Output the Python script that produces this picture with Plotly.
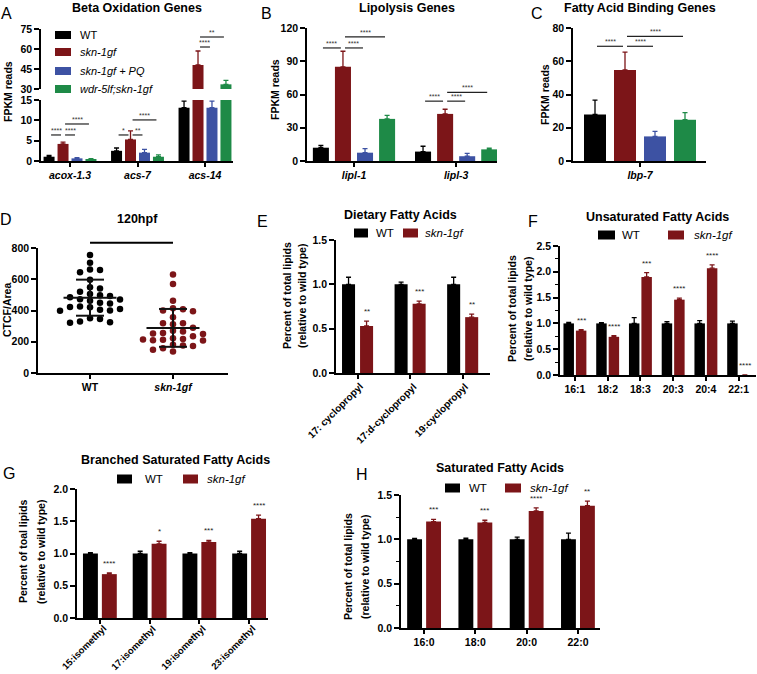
import numpy as np
import plotly.graph_objects as go

W, H = 757, 674
FONT = "Liberation Sans, Arial, Helvetica, sans-serif"
BLACK, RED, BLUE, GREEN = "#000000", "#7c1518", "#3d52a3", "#1e8a47"

# ---------------- data ----------------
strains = ["WT", "skn-1gf", "skn-1gf + PQ", "wdr-5lf;skn-1gf"]

genes_A = ["acox-1.3", "acs-7", "acs-14"]
A_wt = [1.05, 2.5, 13.1]
A_wt_err = [0.3, 0.7, 1.6]
A_skn = [4.2, 5.3, 48.0]
A_skn_err = [0.45, 2.1, 10.5]
A_pq = [0.65, 2.05, 13.1]
A_pq_err = [0.2, 0.8, 1.6]
A_wdr = [0.4, 1.05, 33.5]
A_wdr_err = [0.2, 0.45, 3.0]
sig_A = [("acox-1.3", "WT", "skn-1gf", 6.4, "****"),
         ("acox-1.3", "skn-1gf", "skn-1gf + PQ", 6.4, "****"),
         ("acox-1.3", "skn-1gf", "wdr-5lf;skn-1gf", 9.1, "****"),
         ("acs-7", "WT", "skn-1gf", 6.4, "*"),
         ("acs-7", "skn-1gf", "skn-1gf + PQ", 6.4, "**"),
         ("acs-7", "skn-1gf", "wdr-5lf;skn-1gf", 10.1, "****"),
         ("acs-14", "skn-1gf", "skn-1gf + PQ", 61.5, "****"),
         ("acs-14", "skn-1gf", "wdr-5lf;skn-1gf", 69.0, "**")]

genes_B = ["lipl-1", "lipl-3"]
B_wt = [12.0, 8.5]
B_wt_err = [2.0, 4.8]
B_skn = [85.0, 42.5]
B_skn_err = [14.0, 4.2]
B_pq = [7.5, 4.3]
B_pq_err = [3.6, 2.5]
B_wdr = [38.0, 10.5]
B_wdr_err = [3.2, 1.0]
sig_B = [("lipl-1", "WT", "skn-1gf", 102, "****"),
         ("lipl-1", "skn-1gf", "skn-1gf + PQ", 102, "****"),
         ("lipl-1", "skn-1gf", "wdr-5lf;skn-1gf", 112, "****"),
         ("lipl-3", "WT", "skn-1gf", 54, "****"),
         ("lipl-3", "skn-1gf", "skn-1gf + PQ", 54, "****"),
         ("lipl-3", "skn-1gf", "wdr-5lf;skn-1gf", 62, "****")]

genes_C = ["lbp-7"]
C_wt = [28.0]
C_wt_err = [8.6]
C_skn = [54.8]
C_skn_err = [10.7]
C_pq = [14.8]
C_pq_err = [3.0]
C_wdr = [24.8]
C_wdr_err = [4.3]
sig_C = [("lbp-7", "WT", "skn-1gf", 69, "****"),
         ("lbp-7", "skn-1gf", "skn-1gf + PQ", 69, "****"),
         ("lbp-7", "skn-1gf", "wdr-5lf;skn-1gf", 75, "****")]

groups_D = ["WT", "skn-1gf"]
D_wt = [755, 706, 663, 659, 644, 597, 548, 540, 520, 505, 497, 492, 484, 472,
        470, 462, 450, 445, 425, 422, 420, 410, 405, 400, 398, 350, 346, 330,
        325, 322]
D_skn = [631, 570, 463, 414, 408, 400, 395, 356, 318, 318, 312, 290, 270, 266,
         256, 252, 250, 235, 222, 218, 215, 212, 210, 208, 180, 176, 172, 158,
         148, 138]
D_sig = "****"
D_sig_y = 834

pair = ["WT", "skn-1gf"]

lipids_E = ["17: cyclopropyl", "17:d-cyclopropyl", "19:cyclopropyl"]
E_wt = [1.0, 1.0, 1.0]
E_wt_err = [0.08, 0.025, 0.08]
E_skn = [0.53, 0.78, 0.63]
E_skn_err = [0.055, 0.03, 0.035]
E_sig = ["**", "***", "**"]

lipids_F = ["16:1", "18:2", "18:3", "20:3", "20:4", "22:1"]
F_wt = [1.0, 1.0, 1.0, 1.0, 1.0, 1.0]
F_wt_err = [0.02, 0.015, 0.11, 0.035, 0.055, 0.045]
F_skn = [0.86, 0.74, 1.90, 1.46, 2.07, 0.0]
F_skn_err = [0.02, 0.025, 0.085, 0.03, 0.065, 0.0]
F_sig = ["***", "****", "***", "****", "****", "****"]

lipids_G = ["15:isomethyl", "17:isomethyl", "19:isomethyl", "23:isomethyl"]
G_wt = [1.0, 1.0, 1.0, 1.0]
G_wt_err = [0.015, 0.035, 0.015, 0.035]
G_skn = [0.68, 1.15, 1.18, 1.54]
G_skn_err = [0.02, 0.04, 0.025, 0.055]
G_sig = ["****", "*", "***", "****"]

lipids_H = ["16:0", "18:0", "20:0", "22:0"]
H_wt = [1.0, 1.0, 1.0, 1.0]
H_wt_err = [0.01, 0.012, 0.025, 0.07]
H_skn = [1.20, 1.19, 1.32, 1.38]
H_skn_err = [0.025, 0.025, 0.035, 0.05]
H_sig = ["***", "***", "****", "**"]

# ---------------- helpers ----------------
fig = go.Figure()


def ref(i, k):
    return k if i == 1 else f"{k}{i}"


def axkey(i, k):
    return f"{k}axis" if i == 1 else f"{k}axis{i}"


TICKFONT = dict(family=FONT, size=10.5, color="black", weight=700)
axes = {}


def make_axes(i, box, xr, yr, ytick0, ydtick, xtickvals, xticktext,
              show_x=True, show_xlabels=True, yfmt=None, minor=False):
    x0, x1, yt, yb = box
    xa = dict(domain=[x0 / W, x1 / W], range=xr, anchor=ref(i, "y"),
              showline=show_x, linecolor="black", linewidth=1.6,
              ticks="outside" if show_x else "", ticklen=4, tickwidth=1.5,
              tickcolor="black", showgrid=False, zeroline=False,
              tickfont=TICKFONT, tickmode="array", tickvals=xtickvals,
              ticktext=xticktext, fixedrange=True,
              showticklabels=show_x and show_xlabels, automargin=False)
    ya = dict(domain=[1 - yb / H, 1 - yt / H], range=yr, anchor=ref(i, "x"),
              showline=True, linecolor="black", linewidth=1.6,
              ticks="outside", ticklen=5, tickwidth=1.5, tickcolor="black",
              showgrid=False, zeroline=False, tickfont=TICKFONT,
              tick0=ytick0, dtick=ydtick, fixedrange=True, automargin=False)
    if yfmt:
        ya["tickformat"] = yfmt
    if minor:
        ya["minor"] = dict(dtick=ydtick / 2, ticks="outside", ticklen=3,
                           tickwidth=1.3, tickcolor="black", showgrid=False)
    axes[axkey(i, "x")] = xa
    axes[axkey(i, "y")] = ya


def rot_labels(i, box, labels, size=10, gap=5):
    # slanted category labels whose end sits just under each tick
    yb = box[3]
    for g, lab in enumerate(labels):
        fig.add_annotation(x=g, y=1 - (yb + gap) / H, xref=ref(i, "x"),
                           yref="paper", text=f"<b>{lab}</b>", textangle=-45,
                           xanchor="right", yanchor="top", xshift=11,
                           showarrow=False,
                           font=dict(family=FONT, size=size, color="black"))


def offsets(nser, pitch):
    return [(k - (nser - 1) / 2) * pitch for k in range(nser)]


def add_bars(i, series, ngroups, pitch, width):
    offs = offsets(len(series), pitch)
    for k, (vals, errs, color) in enumerate(series):
        pos = np.arange(ngroups) + offs[k]
        fig.add_trace(go.Bar(
            x=pos, y=vals, width=width,
            marker=dict(color=color, line=dict(width=0)),
            error_y=dict(type="data", array=errs, arrayminus=[0] * ngroups,
                         symmetric=False, color=color, thickness=1.3, width=2.5),
            xaxis=ref(i, "x"), yaxis=ref(i, "y"), showlegend=False,
            hoverinfo="skip"))


def add_sig_lines(i_of_y, sigs, cats, names, pitch, inset):
    offs = offsets(len(names), pitch)
    for g, a, b, y, lab in sigs:
        i = i_of_y(y)
        gi = cats.index(g)
        xa_ = gi + offs[names.index(a)] + inset
        xb_ = gi + offs[names.index(b)] - inset
        fig.add_shape(type="line", x0=xa_, x1=xb_, y0=y, y1=y,
                      xref=ref(i, "x"), yref=ref(i, "y"),
                      line=dict(color="#222222", width=1.2))
        fig.add_annotation(x=(xa_ + xb_) / 2, y=y, xref=ref(i, "x"),
                           yref=ref(i, "y"), text=lab, showarrow=False,
                           yanchor="bottom", yshift=-1,
                           font=dict(family=FONT, size=7, color="#333333"))


def add_stars(i, vals, errs, sigs, pitch):
    off = offsets(2, pitch)[1]
    for g, (v, e, s) in enumerate(zip(vals, errs, sigs)):
        fig.add_annotation(x=g + off, y=v + e, xref=ref(i, "x"),
                           yref=ref(i, "y"), text=s, showarrow=False,
                           yanchor="bottom", yshift=3,
                           font=dict(family=FONT, size=8, color="#222222"))


def txt(x, y, s, size=12.5, bold=True, angle=0, anchor="center", italic=False,
        color="black"):
    t = s
    if italic:
        t = f"<i>{t}</i>"
    if bold:
        t = f"<b>{t}</b>"
    fig.add_annotation(x=x / W, y=1 - y / H, xref="paper", yref="paper",
                       text=t, showarrow=False, textangle=angle,
                       xanchor=anchor, yanchor="middle",
                       font=dict(family=FONT, size=size, color=color))


def swatch(x0, x1, yc, color, h=8):
    fig.add_shape(type="rect", xref="paper", yref="paper",
                  x0=x0 / W, x1=x1 / W, y0=1 - (yc + h / 2) / H,
                  y1=1 - (yc - h / 2) / H, fillcolor=color, line=dict(width=0))


def it(labels):
    return [f"<i>{s}</i>" for s in labels]


# ---------------- panel A (broken axis) ----------------
boxA = (41, 233, 100, 161)
boxAt = (41, 233, 29, 89)
xrA = [-0.43, 2.415]
make_axes(1, boxA, xrA, [0, 15], 0, 5, list(range(3)), it(genes_A))
make_axes(2, boxAt, xrA, [30, 75], 30, 15, [], [], show_x=False)
seriesA = [(A_wt, A_wt_err, BLACK), (A_skn, A_skn_err, RED),
           (A_pq, A_pq_err, BLUE), (A_wdr, A_wdr_err, GREEN)]
add_bars(1, seriesA, 3, 0.207, 0.163)
add_bars(2, seriesA, 3, 0.207, 0.163)
add_sig_lines(lambda y: 2 if y >= 30 else 1, sig_A, genes_A, strains, 0.207, 0.03)

# ---------------- panel B ----------------
boxB = (307, 497, 28, 161)
make_axes(3, boxB, [-0.46, 1.40], [0, 120], 0, 30, [0, 1], it(genes_B))
seriesB = [(B_wt, B_wt_err, BLACK), (B_skn, B_skn_err, RED),
           (B_pq, B_pq_err, BLUE), (B_wdr, B_wdr_err, GREEN)]
add_bars(3, seriesB, 2, 0.216, 0.157)
add_sig_lines(lambda y: 3, sig_B, genes_B, strains, 0.216, 0.02)

# ---------------- panel C ----------------
boxC = (573, 706, 28, 161)
make_axes(4, boxC, [-0.67, 0.66], [0, 80], 0, 20, [0], it(genes_C))
seriesC = [(C_wt, C_wt_err, BLACK), (C_skn, C_skn_err, RED),
           (C_pq, C_pq_err, BLUE), (C_wdr, C_wdr_err, GREEN)]
add_bars(4, seriesC, 1, 0.30, 0.22)
add_sig_lines(lambda y: 4, sig_C, genes_C, strains, 0.30, 0.02)

# ---------------- panel D (scatter) ----------------
boxD = (38, 228, 248, 373)
yrD = [0, 800]
make_axes(5, boxD, [-0.627, 1.663], yrD, 0, 200, [0, 1],
          ["WT", "<i>skn-1gf</i>"])
px_per_val = (boxD[3] - boxD[2]) / (yrD[1] - yrD[0])
px_per_x = (boxD[1] - boxD[0]) / (1.663 + 0.627)


def swarm(vals, diam_px=6.5, step_px=10.0):
    vals = np.asarray(vals, float)
    order = np.argsort(-vals)
    placed = []
    off = np.zeros(len(vals))
    cands = [0]
    for k in range(1, 8):
        cands += [k, -k]
    for idx in order:
        y = vals[idx] * px_per_val
        for c in cands:
            if all(not (s == c and abs(y - py) < diam_px) for py, s in placed):
                placed.append((y, c))
                off[idx] = c * step_px / px_per_x
                break
    return off


for gi, (vals, color) in enumerate([(D_wt, BLACK), (D_skn, RED)]):
    v = np.asarray(vals, float)
    fig.add_trace(go.Scatter(x=gi + swarm(v), y=v, mode="markers",
                             marker=dict(size=6.5, color=color),
                             xaxis="x5", yaxis="y5", showlegend=False,
                             hoverinfo="skip", cliponaxis=False))
    m, sd = v.mean(), v.std(ddof=1)
    hw, cw = 26.5 / px_per_x, 14 / px_per_x
    xs = [gi - hw, gi + hw, None, gi, gi, None, gi - cw, gi + cw, None,
          gi - cw, gi + cw]
    ys = [m, m, None, m - sd, m + sd, None, m + sd, m + sd, None,
          m - sd, m - sd]
    fig.add_trace(go.Scatter(x=xs, y=ys, mode="lines",
                             line=dict(color="#111111", width=2),
                             xaxis="x5", yaxis="y5", showlegend=False,
                             hoverinfo="skip"))
# significance line above the axis top (paper y so it is not clipped)
ypx = boxD[3] - (D_sig_y - yrD[0]) * px_per_val
fig.add_shape(type="line", xref="x5", yref="paper", x0=0, x1=1,
              y0=1 - ypx / H, y1=1 - ypx / H,
              line=dict(color="black", width=2))
fig.add_annotation(x=0.5, y=D_sig_y, xref="x5", yref="y5", text=D_sig,
                   showarrow=False, yanchor="bottom", yshift=0,
                   font=dict(family=FONT, size=8, color="#333333"))

# ---------------- panels E-H ----------------
boxE = (336, 490, 240, 373)
make_axes(6, boxE, [-0.41, 2.52], [0, 1.5], 0, 0.5, list(range(3)),
          lipids_E, show_xlabels=False, yfmt=".1f")
rot_labels(6, boxE, lipids_E)
add_bars(6, [(E_wt, E_wt_err, BLACK), (E_skn, E_skn_err, RED)], 3, 0.343, 0.248)
add_stars(6, E_skn, E_skn_err, E_sig, 0.343)

boxF = (560, 756, 246, 375)
make_axes(7, boxF, [-0.456, 5.53], [0, 2.5], 0, 0.5, list(range(6)),
          lipids_F, yfmt=".1f", minor=True)
add_bars(7, [(F_wt, F_wt_err, BLACK), (F_skn, F_skn_err, RED)], 6, 0.38, 0.32)
add_stars(7, F_skn, F_skn_err, F_sig, 0.38)

boxG = (77, 268, 489, 618)
make_axes(8, boxG, [-0.46, 3.38], [0, 2.0], 0, 0.5, list(range(4)),
          lipids_G, show_xlabels=False, yfmt=".1f")
rot_labels(8, boxG, lipids_G, size=9.5, gap=2)
add_bars(8, [(G_wt, G_wt_err, BLACK), (G_skn, G_skn_err, RED)], 4, 0.38, 0.30)
add_stars(8, G_skn, G_skn_err, G_sig, 0.38)

boxH = (401, 600, 495, 628)
make_axes(9, boxH, [-0.45, 3.43], [0, 1.5], 0, 0.5, list(range(4)),
          lipids_H, yfmt=".1f", minor=True)
add_bars(9, [(H_wt, H_wt_err, BLACK), (H_skn, H_skn_err, RED)], 4, 0.37, 0.29)
add_stars(9, H_skn, H_skn_err, H_sig, 0.37)

# ---------------- titles, letters, axis titles ----------------
for s, x, y in [("Beta Oxidation Genes", 137, 8), ("Lipolysis Genes", 407, 8),
                ("Fatty Acid Binding Genes", 640, 8), ("120hpf", 137, 219),
                ("Dietary Fatty Acids", 400, 215),
                ("Unsaturated Fatty Acids", 657, 217),
                ("Branched Saturated Fatty Acids", 175, 460),
                ("Saturated Fatty Acids", 500, 468)]:
    txt(x, y, s, size=12.5)

for s, x, y in [("A", 6, 13), ("B", 266, 13), ("C", 537, 13), ("D", 6, 219),
                ("E", 262, 221), ("F", 533, 221), ("G", 9, 473),
                ("H", 362, 474)]:
    txt(x, y, s, size=16, bold=False)

for s, x, y in [("FPKM reads", 8, 92), ("FPKM reads", 275, 90),
                ("FPKM reads", 545, 95), ("CTCF/Area", 7, 310),
                ("Percent of total lipids", 287, 296),
                ("(relative to wild type)", 302, 296),
                ("Percent of total lipids", 512, 309),
                ("(relative to wild type)", 528, 309),
                ("Percent of toal lipids", 23, 552),
                ("(relative to wild type)", 41, 552),
                ("Percent of total lipids", 348, 567),
                ("(relative to wild type)", 365, 567)]:
    txt(x, y, s, size=10.5, angle=-90)

# ---------------- legends ----------------
legA = [(35, BLACK), (52, RED), (71, BLUE), (89, GREEN)]
for (yc, col), name in zip(legA, strains):
    swatch(55, 71, yc, col)
    txt(78, yc, name, size=11, bold=False, anchor="left", italic=(name != "WT"))

for (bx0, bx1, tx, rx0, rx1, rtx, yc) in [(354, 368, 374, 403, 418, 423, 233),
                                           (598, 615, 620, 668, 684, 692, 235),
                                           (117, 132, 143, 183, 198, 205, 479),
                                           (445, 460, 467, 505, 521, 528, 488)]:
    swatch(bx0, bx1, yc, BLACK, h=9)
    txt(tx, yc, pair[0], size=11.5, bold=False, anchor="left")
    swatch(rx0, rx1, yc, RED, h=9)
    txt(rtx, yc, pair[1], size=11.5, bold=False, anchor="left", italic=True)

fig.update_layout(width=W, height=H, margin=dict(l=0, r=0, t=0, b=0,
                                                 autoexpand=False),
                  paper_bgcolor="white", plot_bgcolor="white",
                  showlegend=False, barmode="overlay",
                  font=dict(family=FONT, color="black"), **axes)

fig.write_html("out.html", config={"displayModeBar": False},
               post_script="document.body.style.margin='0px';"
                           "document.body.style.overflow='hidden';")
